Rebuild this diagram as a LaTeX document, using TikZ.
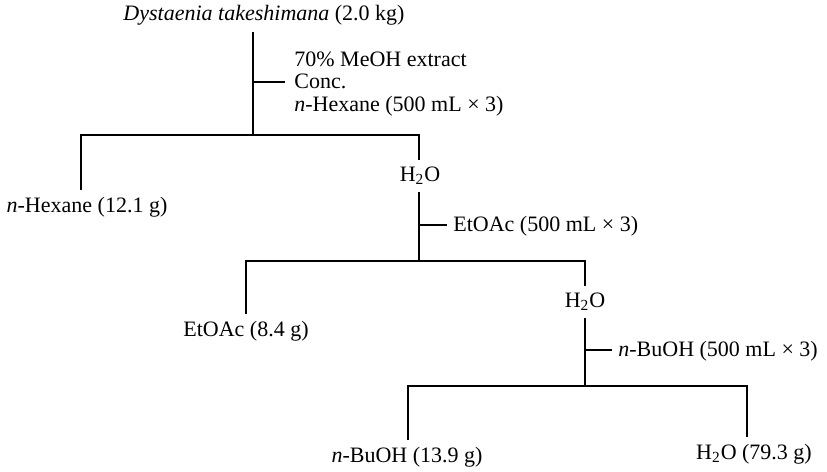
\documentclass[tikz,border=0pt]{standalone}
\usepackage{fontspec}
\setmainfont{Liberation Serif}
\usepackage{tikz}
\usetikzlibrary{calc}
\tikzset{
    fraction/.style={inner sep=3.5pt, font=\fontsize{11}{12}\selectfont},
    solvent/.style={anchor=west, align=left, inner sep=0pt, font=\fontsize{11}{11.3}\selectfont},
    tree/.style={line width=1pt, draw=black}
}

\begin{document}
\begin{tikzpicture}[x=0.5pt, y=-0.5pt]
    \useasboundingbox (0,0) rectangle (827,472);
    % fractions
    \node[fraction] (plant) at (264,15) {\textit{Dystaenia takeshimana} (2.0 kg)};
    \node[fraction] (hex) at (87,207) {\textit{n}-Hexane (12.1 g)};
    \node[fraction] (w1) at (420,176) {H\textsubscript{2}O};
    \node[fraction] (ea) at (246,331) {EtOAc (8.4 g)};
    \node[fraction] (w2) at (585,302) {H\textsubscript{2}O};
    \node[fraction] (bu) at (407,457) {\textit{n}-BuOH (13.9 g)};
    \node[fraction] (w3) at (754,454) {H\textsubscript{2}O (79.3 g)};
    % solvents
    \node[solvent] (s1) at (294,84) {70\% MeOH extract\\Conc.\\\textit{n}-Hexane (500 mL × 3)};
    \node[solvent] (s2) at (453,226) {EtOAc (500 mL × 3)};
    \node[solvent] (s3) at (618,351) {\textit{n}-BuOH (500 mL × 3)};
    % junctions
    \coordinate (t1) at (253,82);
    \coordinate (j1) at (253,135);
    \coordinate (b1l) at (81,135);
    \coordinate (b1r) at (419,135);
    \coordinate (t2) at (419,225);
    \coordinate (j2) at (419,261);
    \coordinate (b2l) at (246,261);
    \coordinate (b2r) at (585,261);
    \coordinate (t3) at (585,350);
    \coordinate (j3) at (585,386);
    \coordinate (b3l) at (408,386);
    \coordinate (b3r) at (747,386);

    \draw[tree] (plant.south -| j1) -- (j1);
    \draw[tree] (t1) -- ($(t1 -| s1.west)+(-9,0)$);
    \draw[tree] (hex.north -| b1l) -- (b1l) -- (b1r) -- (w1.north -| b1r);

    \draw[tree] (w1.south -| j2) -- (j2);
    \draw[tree] (t2) -- ($(t2 -| s2.west)+(-6,0)$);
    \draw[tree] (ea.north -| b2l) -- (b2l) -- (b2r) -- (w2.north -| b2r);

    \draw[tree] (w2.south -| j3) -- (j3);
    \draw[tree] (t3) -- ($(t3 -| s3.west)+(-6,0)$);
    \draw[tree] (bu.north -| b3l) -- (b3l) -- (b3r) -- (w3.north -| b3r);
\end{tikzpicture}
\end{document}
